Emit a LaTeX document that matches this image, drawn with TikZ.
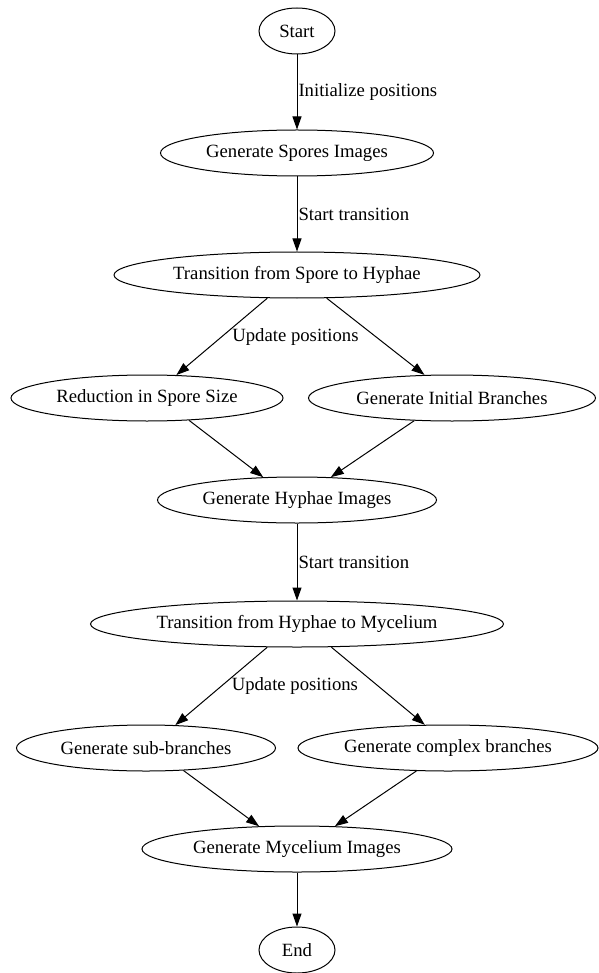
\documentclass[tikz,border=0pt]{standalone}
\usepackage{fontspec}
\setmainfont{Liberation Serif}
\usetikzlibrary{positioning,arrows.meta,shapes.geometric}
\tikzset{
  stage/.style={draw,ellipse,line width=1pt,minimum height=46pt,inner sep=0pt,
               font=\fontsize{18.7}{22}\selectfont},
  flow/.style={-{Triangle[length=13pt,width=9pt]},line width=1pt},
  edgelbl/.style={font=\fontsize{18.7}{22}\selectfont,inner sep=1pt},
}

\begin{document}
\begin{tikzpicture}
  \useasboundingbox (0,0) rectangle (598pt,-973pt);
  % spore stage
  \node[stage,minimum width=76pt] (start) at (297pt,-31pt) {Start};
  \node[stage,minimum width=273pt,below=75pt of start] (spores) {Generate Spores Images};
  \node[stage,minimum width=366pt,below=75pt of spores] (trans1) {Transition from Spore to Hyphae};
  \node[stage,minimum width=272pt,below=76pt of trans1,xshift=-150pt] (reduc) {Reduction in Spore Size};
  \node[stage,minimum width=287pt,below=76pt of trans1,xshift=155pt] (initbr) {Generate Initial Branches};
  % hyphae stage
  \node[stage,minimum width=279pt,below=178pt of trans1] (hyphae) {Generate Hyphae Images};
  \node[stage,minimum width=413pt,below=77pt of hyphae] (trans2) {Transition from Hyphae to Mycelium};
  \node[stage,minimum width=259pt,below=77pt of trans2,xshift=-151pt] (subbr) {Generate sub-branches};
  \node[stage,minimum width=300pt,below=77pt of trans2,xshift=151pt] (cplxbr) {Generate complex branches};
  % mycelium stage
  \node[stage,minimum width=310pt,below=178pt of trans2] (mycel) {Generate Mycelium Images};
  \node[stage,minimum width=76pt,below=54pt of mycel] (end) {End};

  \draw[flow] (start) -- (spores) node[midway,right,edgelbl] {Initialize positions};
  \draw[flow] (spores) -- (trans1) node[midway,right,edgelbl] {Start transition};
  \draw[flow] (trans1.218) -- (reduc.38)
    node[midway,anchor=west,xshift=10pt,edgelbl,inner sep=0pt] {Update positions};
  \draw[flow] (trans1.322) -- (initbr.140);
  \draw[flow] (reduc.-28) -- (hyphae.146);
  \draw[flow] (initbr.211) -- (hyphae.34);
  \draw[flow] (hyphae) -- (trans2) node[midway,right,edgelbl] {Start transition};
  \draw[flow] (trans2.218) -- (subbr.38)
    node[midway,anchor=west,xshift=10pt,edgelbl,inner sep=0pt] {Update positions};
  \draw[flow] (trans2.326) -- (cplxbr.135);
  \draw[flow] (subbr.-31) -- (mycel.149);
  \draw[flow] (cplxbr.216) -- (mycel.31);
  \draw[flow] (mycel) -- (end);
\end{tikzpicture}
\end{document}
